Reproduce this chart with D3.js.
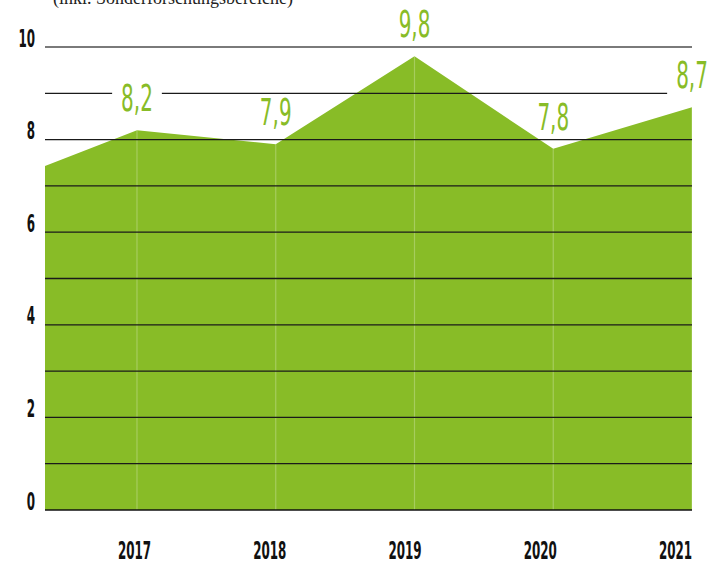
<!DOCTYPE html>
<html>
<head>
<meta charset="utf-8">
<script src="https://cdn.jsdelivr.net/npm/d3@7"></script>
<style>
  body { margin: 0; background: #fff; }
  svg { display: block; }
</style>
</head>
<body>
<svg id="chart"></svg>
<script>
// values
const years = [2017, 2018, 2019, 2020, 2021]
const values = [8.2, 7.9, 9.8, 7.8, 8.7]
const valueLabels = ["8,2", "7,9", "9,8", "7,8", "8,7"]
// the area is cut at the left, partway into the year before 2017
const startYear = 2016.337
const startValue = 7.43
const yTicks = [0, 2, 4, 6, 8, 10]
const gridValues = [1, 2, 3, 4, 5, 6, 7, 8, 9, 10]
const subtitle = "(inkl. Sonderforschungsbereiche)"

const W = 707, H = 565
const margin = { top: 47, right: 15, bottom: 55, left: 45 }
const width = W - margin.left - margin.right
const height = H - margin.top - margin.bottom

const GREEN = "#88bc27"
const narrow = "'DejaVu Sans Condensed', 'DejaVu Sans', sans-serif"
const labelSize = 37
const labelScale = 0.6

const svg = d3.select("#chart").attr("width", W).attr("height", H)

svg.append("text")
  .attr("x", 53).attr("y", 4)
  .attr("font-family", "'Liberation Serif', serif")
  .attr("font-size", 18)
  .attr("fill", "#222")
  .text(subtitle)

const g = svg.append("g").attr("transform", `translate(${margin.left},${margin.top})`)

const x = d3.scaleLinear().domain([startYear, d3.max(years)]).range([0, width])
const y = d3.scaleLinear().domain([0, 10]).range([height, 0])

const points = [{ year: startYear, value: startValue }]
  .concat(years.map((d, i) => ({ year: d, value: values[i] })))

const area = d3.area()
  .x(d => x(d.year))
  .y0(y(0))
  .y1(d => y(d.value))

g.append("path")
  .datum(points)
  .attr("d", area)
  .attr("fill", GREEN)

// faint vertical lines under each year
g.selectAll(".vline")
  .data(points.slice(1))
  .join("line")
    .attr("class", "vline")
    .attr("x1", d => x(d.year)).attr("x2", d => x(d.year))
    .attr("y1", d => y(d.value)).attr("y2", y(0))
    .attr("stroke", "#fff")
    .attr("stroke-opacity", 0.25)
    .attr("stroke-width", 1.2)

// value labels
const labels = g.append("g").selectAll("text")
  .data(points.slice(1))
  .join("text")
    .attr("transform", d => `translate(${x(d.year)},${y(d.value) - 19}) scale(${labelScale},1)`)
    .attr("text-anchor", "middle")
    .attr("font-family", narrow)
    .attr("font-size", labelSize)
    .attr("fill", GREEN)
    .text((d, i) => valueLabels[i])

// glyph boxes of the labels (digits only, not the whole font box)
const boxes = []
labels.each(function (d) {
  const w = this.getBBox().width * labelScale
  const base = y(d.value) - 19
  boxes.push({ x0: x(d.year) - w / 2, x1: x(d.year) + w / 2, y0: base - 0.73 * labelSize, y1: base })
})

// gridlines, broken where a value label sits on them
const pad = 9
gridValues.forEach(v => {
  const yy = y(v)
  const cuts = boxes.filter(b => yy > b.y0 - 3 && yy < b.y1 + 6)
    .map(b => [b.x0 - pad, b.x1 + pad])
    .sort((a, b) => a[0] - b[0])
  let segs = []
  let start = 0
  cuts.forEach(c => {
    if (c[0] > start) segs.push([start, c[0]])
    start = Math.max(start, c[1])
  })
  if (start < width) segs.push([start, width])
  segs.forEach(s => {
    g.append("line")
      .attr("x1", s[0]).attr("x2", s[1])
      .attr("y1", yy).attr("y2", yy)
      .attr("stroke", v === 10 ? "#7a7a7a" : "#1a1a1a")
      .attr("stroke-width", v === 10 ? 2 : 1.3)
  })
})

g.append("line")
  .attr("x1", 0).attr("x2", width)
  .attr("y1", y(0)).attr("y2", y(0))
  .attr("stroke", "#111")
  .attr("stroke-width", 1.5)

// y axis
const yAxis = d3.axisLeft(y).tickValues(yTicks).tickSize(0).tickPadding(0)
const yAxisG = g.append("g").call(yAxis)
yAxisG.select(".domain").remove()
yAxisG.selectAll("text")
  .attr("x", null).attr("dy", null)
  .attr("transform", "translate(-10,-1) scale(0.53,1)")
  .attr("text-anchor", "end")
  .attr("font-family", narrow)
  .attr("font-weight", "bold")
  .attr("font-size", 25)
  .attr("fill", "#111")

// x axis labels sit on their own evenly spaced row
const xLab = d3.scalePoint().domain(years).range([134 - margin.left, 675 - margin.left])
const xAxis = d3.axisBottom(xLab).tickSize(0).tickPadding(0)
const xAxisG = g.append("g").attr("transform", `translate(0,${height})`).call(xAxis)
xAxisG.select(".domain").remove()
xAxisG.selectAll("text")
  .attr("y", null).attr("dy", null)
  .attr("transform", "translate(0,49) scale(0.53,1)")
  .attr("font-family", narrow)
  .attr("font-weight", "bold")
  .attr("font-size", 25)
  .attr("fill", "#111")
</script>
</body>
</html>
